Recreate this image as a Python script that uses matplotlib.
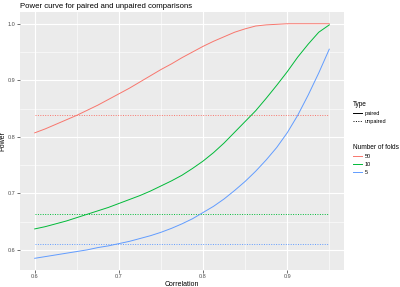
import matplotlib
matplotlib.use("Agg")
import matplotlib.pyplot as plt
from matplotlib.lines import Line2D

plt.rcParams["font.family"] = ["Liberation Sans", "DejaVu Sans"]

# ── data ──────────────────────────────────────────────────────────────────────
correlation = [0.6000, 0.6125, 0.6250, 0.6375, 0.6500, 0.6625, 0.6750, 0.6875,
               0.7000, 0.7125, 0.7250, 0.7375, 0.7500, 0.7625, 0.7750, 0.7875,
               0.8000, 0.8125, 0.8250, 0.8375, 0.8500, 0.8625, 0.8750, 0.8875,
               0.9000, 0.9125, 0.9250, 0.9375, 0.9500]
paired_50 = [0.807, 0.814, 0.822, 0.830, 0.838, 0.847, 0.856, 0.866,
             0.876, 0.886, 0.897, 0.908, 0.919, 0.929, 0.940, 0.950,
             0.960, 0.969, 0.977, 0.985, 0.991, 0.996, 0.998, 0.999,
             1.000, 1.000, 1.000, 1.000, 1.000]
paired_10 = [0.637, 0.641, 0.646, 0.651, 0.657, 0.663, 0.669, 0.675,
             0.682, 0.689, 0.696, 0.704, 0.713, 0.722, 0.732, 0.744,
             0.757, 0.772, 0.789, 0.808, 0.827, 0.846, 0.868, 0.891,
             0.915, 0.941, 0.964, 0.985, 0.998]
paired_5 = [0.585, 0.588, 0.591, 0.594, 0.597, 0.600, 0.604, 0.607,
            0.611, 0.615, 0.620, 0.625, 0.631, 0.638, 0.646, 0.655,
            0.666, 0.677, 0.690, 0.705, 0.721, 0.739, 0.759, 0.781,
            0.807, 0.838, 0.874, 0.913, 0.955]
unpaired = {"50": 0.839, "10": 0.664, "5": 0.611}

folds = ["50", "10", "5"]
colors = {"50": "#F8766D", "10": "#00BA38", "5": "#619CFF"}
paired = {"50": paired_50, "10": paired_10, "5": paired_5}

# ── figure ────────────────────────────────────────────────────────────────────
fig = plt.figure(figsize=(4.0, 2.87), dpi=100)
ax = fig.add_axes([0.05, 0.0592, 0.81, 0.8990])
ax.set_facecolor("#EBEBEB")
for s in ax.spines.values():
    s.set_visible(False)

ax.set_xlim(0.5825, 0.9675)
ax.set_ylim(0.5643, 1.0208)
ax.set_xticks([0.6, 0.7, 0.8, 0.9])
ax.set_yticks([0.6, 0.7, 0.8, 0.9, 1.0])
ax.set_xticks([0.65, 0.75, 0.85, 0.95], minor=True)
ax.set_yticks([0.65, 0.75, 0.85, 0.95], minor=True)
ax.grid(which="major", color="white", lw=0.8)
ax.grid(which="minor", color="white", lw=0.4)
ax.set_axisbelow(True)
ax.tick_params(which="major", length=2, width=0.5, color="#333333",
               labelsize=4, labelcolor="#4D4D4D", pad=1)
ax.tick_params(which="minor", length=0)

for f in folds:
    ax.plot(correlation, paired[f], color=colors[f], lw=0.7)
    ax.plot([correlation[0], correlation[-1]], [unpaired[f]] * 2,
            color=colors[f], lw=0.7, ls=(0, (1, 1.5)))

ax.set_xlabel("Correlation", fontsize=5, labelpad=1)
ax.set_ylabel("Power", fontsize=5, labelpad=1.5)
ax.set_title("Power curve for paired and unpaired comparisons",
             fontsize=5.6, loc="left", x=0.0, pad=3)

# legends
common = dict(loc="upper left", frameon=False, fontsize=4, title_fontsize=4.7,
              handlelength=1.6, handletextpad=0.6, labelspacing=0.55,
              borderpad=0, alignment="left")
type_handles = [Line2D([], [], color="black", lw=0.7),
                Line2D([], [], color="black", lw=0.7, ls=(0, (1, 1.5)))]
fig.legend(type_handles, ["paired", "unpaired"], title="Type",
           bbox_to_anchor=(0.875, 0.658), **common)
fold_handles = [Line2D([], [], color=colors[f], lw=0.7) for f in folds]
fig.legend(fold_handles, folds, title="Number of folds",
           bbox_to_anchor=(0.875, 0.508), **common)

fig.savefig("out.png", dpi=100)
